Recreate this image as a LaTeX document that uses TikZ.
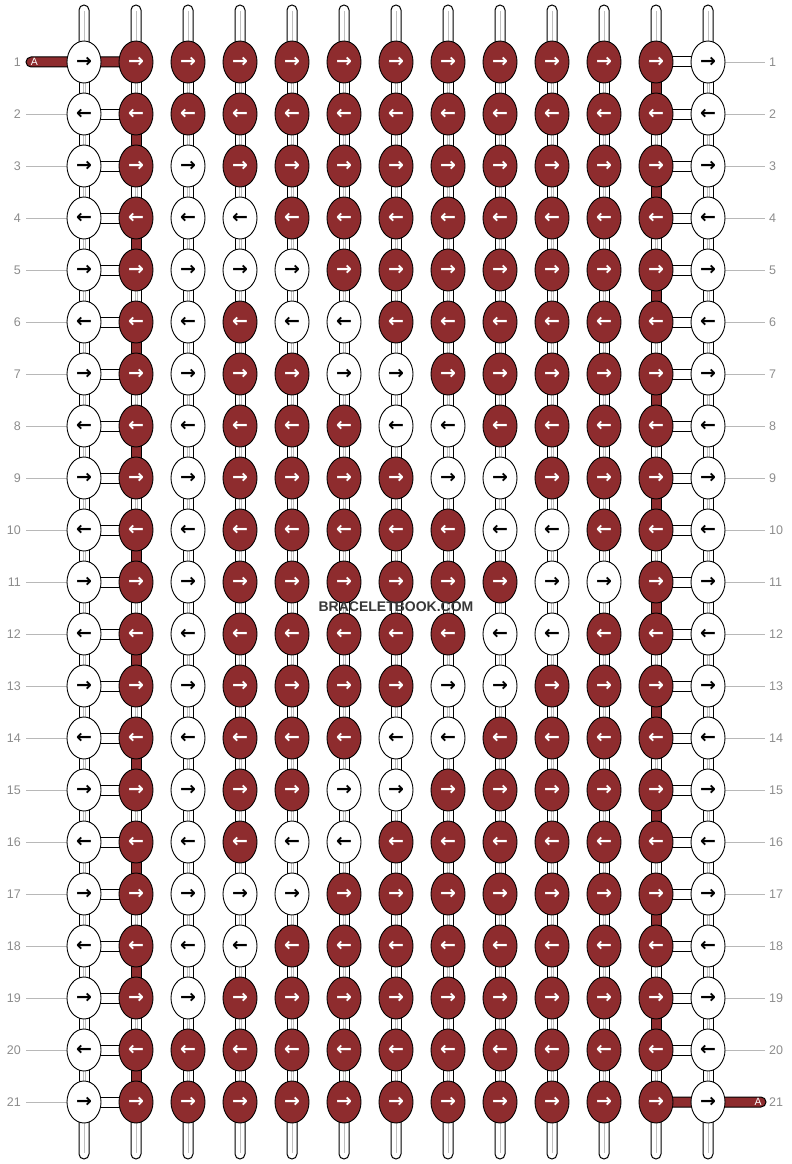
\documentclass[tikz,border=0pt]{standalone}
\usepackage{fontspec}
\setmainfont{Liberation Sans}
\newfontfamily\arrowfont{DejaVu Sans}
\usetikzlibrary{shapes.geometric,backgrounds}
\definecolor{knotred}{RGB}{142,44,46}
\colorlet{wfill}{white}
\colorlet{wtext}{black}
\colorlet{rfill}{knotred}
\colorlet{rtext}{white}
\begin{document}
\begin{tikzpicture}[x = 1pt, y = -1pt,
		knot/.style = {draw, ellipse, line width = 0.9pt, minimum width = 34pt, minimum height = 42pt, inner sep = 0pt, fill = #1fill, text = #1text, font = \arrowfont\bfseries\fontsize{19}{19}\selectfont},
		bar/.style = {draw = black, line width = 1pt, fill = #1fill},
		tube/.style = {bar = w, rounded corners = 5pt},
		strandline/.style = {draw = black!25, line width = 0.8pt},
		rowlabel/.style = {text = black!45, font = \fontsize{12.5}{12.5}\selectfont, inner sep = 0pt},
		labelline/.style = {draw = black!28, line width = 0.8pt},
		endlabel/.style = {text = white, font = \fontsize{10.5}{10.5}\selectfont, inner sep = 0pt},
		watermark/.style = {text = black!78, font = \bfseries\fontsize{14}{14}\selectfont, inner sep = 0pt}]
	\useasboundingbox (0,0) rectangle (792,1164);
	\foreach \r/\pattern in {
			1/{w,r,r,r,r,r,r,r,r,r,r,r,w},
			2/{w,r,r,r,r,r,r,r,r,r,r,r,w},
			3/{w,r,w,r,r,r,r,r,r,r,r,r,w},
			4/{w,r,w,w,r,r,r,r,r,r,r,r,w},
			5/{w,r,w,w,w,r,r,r,r,r,r,r,w},
			6/{w,r,w,r,w,w,r,r,r,r,r,r,w},
			7/{w,r,w,r,r,w,w,r,r,r,r,r,w},
			8/{w,r,w,r,r,r,w,w,r,r,r,r,w},
			9/{w,r,w,r,r,r,r,w,w,r,r,r,w},
			10/{w,r,w,r,r,r,r,r,w,w,r,r,w},
			11/{w,r,w,r,r,r,r,r,r,w,w,r,w},
			12/{w,r,w,r,r,r,r,r,w,w,r,r,w},
			13/{w,r,w,r,r,r,r,w,w,r,r,r,w},
			14/{w,r,w,r,r,r,w,w,r,r,r,r,w},
			15/{w,r,w,r,r,w,w,r,r,r,r,r,w},
			16/{w,r,w,r,w,w,r,r,r,r,r,r,w},
			17/{w,r,w,w,w,r,r,r,r,r,r,r,w},
			18/{w,r,w,w,r,r,r,r,r,r,r,r,w},
			19/{w,r,w,r,r,r,r,r,r,r,r,r,w},
			20/{w,r,r,r,r,r,r,r,r,r,r,r,w},
			21/{w,r,r,r,r,r,r,r,r,r,r,r,w}}
		\foreach \k [count = \c] in \pattern
			\node[knot = \k] (k-\r-\c) at (32+52*\c, 10+52*\r) {\ifodd\r →\else ←\fi};
	\foreach \r in {1,...,21} {
		\node[rowlabel, anchor = east] (left-\r) at (21, 10+52*\r) {\r};
		\node[rowlabel, anchor = west] (right-\r) at (769, 10+52*\r) {\r};
		\coordinate (ll-\r) at (26, 10+52*\r);
		\coordinate (rl-\r) at (765, 10+52*\r);
	}
	\coordinate (a-in) at (26, 62);
	\coordinate (a-out) at (766, 1102);
	\begin{scope}[on background layer]
		\foreach \r in {2,...,21}
			\draw[labelline] (ll-\r) -- (k-\r-1);
		\foreach \r in {1,...,20}
			\draw[labelline] (k-\r-13) -- (rl-\r);
		\foreach \c in {1,...,13} {
			\coordinate (top-\c) at (32+52*\c, 5);
			\coordinate (bot-\c) at (32+52*\c, 1159);
			\draw[tube] ([xshift = -5pt]top-\c) rectangle ([xshift = 5pt]k-1-\c.center);
			\draw[strandline] ([yshift = -6pt]top-\c) -- (k-1-\c.center);
			\draw[tube] ([xshift = -5pt]k-21-\c.center) rectangle ([xshift = 5pt]bot-\c);
			\draw[strandline] (k-21-\c.center) -- ([yshift = 6pt]bot-\c);
		}
		\foreach \r in {1,...,21}
			\foreach \c [evaluate = \c as \nc using int(\c+1)] in {2,...,11}
				\draw[bar = r] ([yshift = -5pt]k-\r-\c.center) rectangle ([yshift = 5pt]k-\r-\nc.center);
		\foreach \r in {2,...,21}
			\draw[bar = w] ([yshift = -5pt]k-\r-1.center) rectangle ([yshift = 5pt]k-\r-2.center);
		\foreach \r in {1,...,20}
			\draw[bar = w] ([yshift = -5pt]k-\r-12.center) rectangle ([yshift = 5pt]k-\r-13.center);
		\draw[bar = r, rounded corners = 5pt] ([yshift = 5pt]a-in) rectangle ([yshift = -5pt]k-1-2.center);
		\draw[bar = r, rounded corners = 5pt] ([yshift = 5pt]k-21-12.center) rectangle ([yshift = -5pt]a-out);
		\foreach \r [evaluate = \r as \nr using int(\r+1)] in {1,...,20}
			\foreach \c in {1,3,4,5,6,7,8,9,10,11,13} {
				\draw[bar = w] ([xshift = -5pt]k-\r-\c.center) rectangle ([xshift = 5pt]k-\nr-\c.center);
				\draw[strandline] ([xshift = -1pt]k-\r-\c.center) -- ([xshift = -1pt]k-\nr-\c.center);
				\draw[strandline] ([xshift = 1pt]k-\r-\c.center) -- ([xshift = 1pt]k-\nr-\c.center);
			}
		\foreach \r [evaluate = \r as \nr using int(\r+1)] in {2,4,...,20} {
			\draw[bar = r] ([xshift = -5pt]k-\r-2.center) rectangle ([xshift = 5pt]k-\nr-2.center);
			\draw[bar = w] ([xshift = -5pt]k-\r-12.center) rectangle ([xshift = 5pt]k-\nr-12.center);
			\draw[strandline] ([xshift = -1pt]k-\r-12.center) -- ([xshift = -1pt]k-\nr-12.center);
			\draw[strandline] ([xshift = 1pt]k-\r-12.center) -- ([xshift = 1pt]k-\nr-12.center);
		}
		\foreach \r [evaluate = \r as \nr using int(\r+1)] in {1,3,...,19} {
			\draw[bar = w] ([xshift = -5pt]k-\r-2.center) rectangle ([xshift = 5pt]k-\nr-2.center);
			\draw[strandline] ([xshift = -1pt]k-\r-2.center) -- ([xshift = -1pt]k-\nr-2.center);
			\draw[strandline] ([xshift = 1pt]k-\r-2.center) -- ([xshift = 1pt]k-\nr-2.center);
			\draw[bar = r] ([xshift = -5pt]k-\r-12.center) rectangle ([xshift = 5pt]k-\nr-12.center);
		}
	\end{scope}
	\node[endlabel] (a-left) at (34.5, 62) {A};
	\node[endlabel] (a-right) at (758, 1102) {A};
	\node[watermark] (wm) at (396, 607) {BRACELETBOOK.COM};
\end{tikzpicture}
\end{document}
